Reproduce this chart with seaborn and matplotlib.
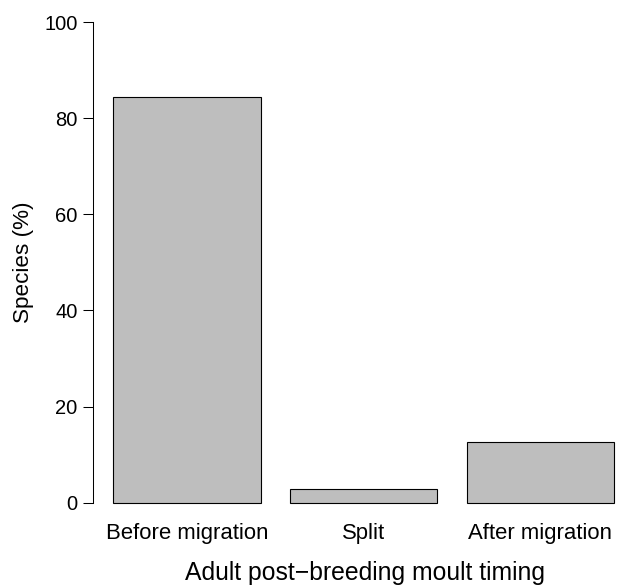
import matplotlib
matplotlib.use("Agg")
import matplotlib.pyplot as plt
import seaborn as sns
import pandas as pd

categories = ["Before migration", "Split", "After migration"]
values = [84.3, 2.9, 12.6]
yticks = [0, 20, 40, 60, 80, 100]

sns.set_style("white")
plt.rcParams["font.family"] = ["Liberation Sans", "DejaVu Sans"]
plt.rcParams["text.color"] = "black"
plt.rcParams["axes.labelcolor"] = "black"
plt.rcParams["xtick.color"] = "black"
plt.rcParams["ytick.color"] = "black"

W, H = 618, 586
fig = plt.figure(figsize=(W / 100, H / 100), dpi=100)
left_px, right_px = 92.7, 618.0
bot_px, top_px = 64.07, 583.2
ax = fig.add_axes([left_px / W, bot_px / H, (right_px - left_px) / W, (top_px - bot_px) / H])

df = pd.DataFrame({"cat": categories, "val": values})
sns.barplot(data=df, x="cat", y="val", ax=ax, color="#BEBEBE", saturation=1,
            width=1 / 1.2, edgecolor="black", linewidth=0.8)

ax.set_xlim(-0.5337, 2.439)
ax.set_ylim(-4, 104)
ax.set_yticks(yticks)
ax.set_yticklabels([str(t) for t in yticks], fontsize=14.5)
ax.tick_params(axis="y", length=7, width=0.75, pad=4, colors="black", direction="out", left=True)
ax.tick_params(axis="x", length=0, pad=1.0, labelsize=15.9, colors="black")

for s in ["top", "right", "bottom"]:
    ax.spines[s].set_visible(False)
ax.spines["left"].set_bounds(0, 100)
ax.spines["left"].set_linewidth(0.75)
ax.spines["left"].set_color("black")

ax.set_xlabel("Adult post\u2212breeding moult timing", fontsize=17.8)
ax.xaxis.label.set_va("baseline")
ax.xaxis.set_label_coords((365.3 - left_px) / (right_px - left_px), (6 - bot_px) / (top_px - bot_px))
ax.set_ylabel("Species (%)", fontsize=16.2)
ax.yaxis.set_label_coords((33.6 - left_px) / (right_px - left_px), 0.5)

fig.savefig("out.png", dpi=100)
